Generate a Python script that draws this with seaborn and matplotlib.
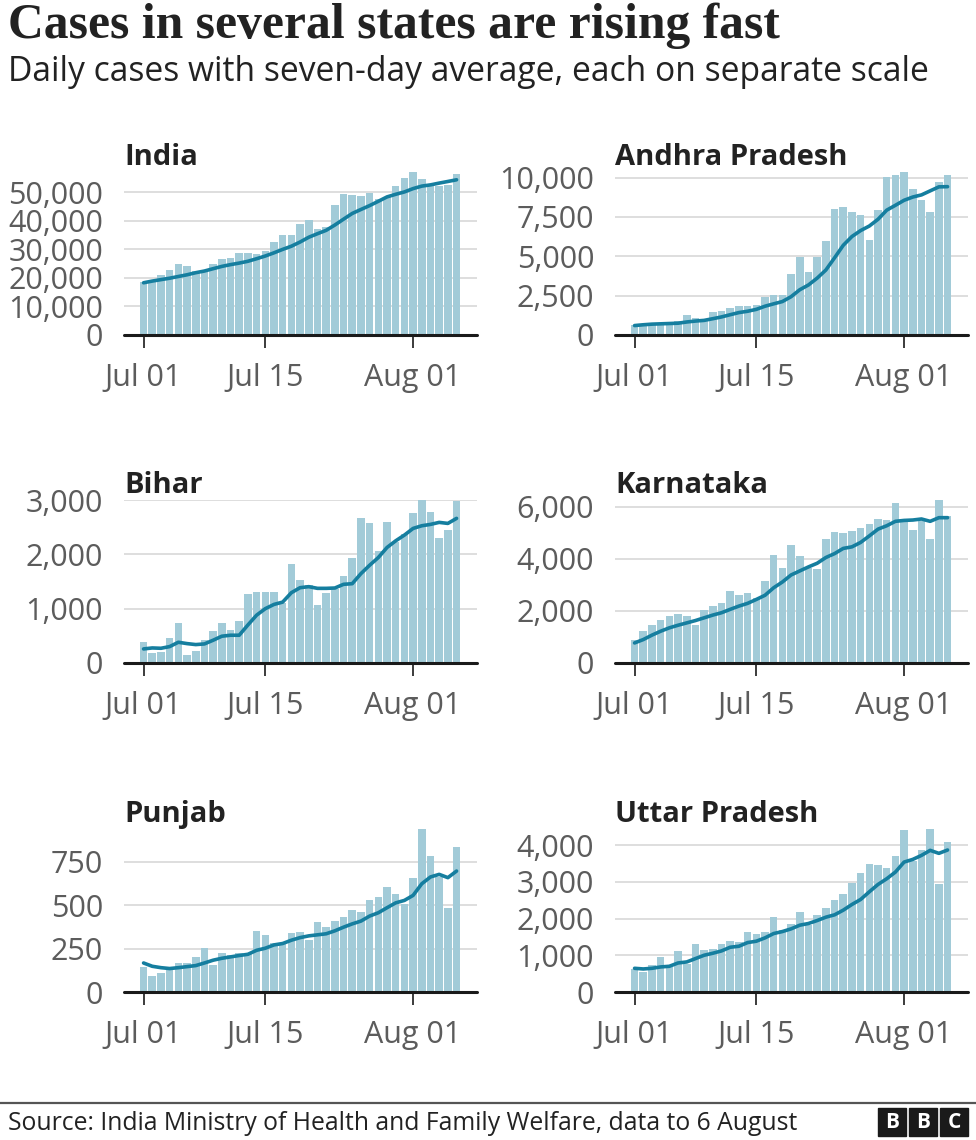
import numpy as np
import pandas as pd
import matplotlib
matplotlib.use("Agg")
import matplotlib.pyplot as plt
import seaborn as sns
from matplotlib.patches import Rectangle
from matplotlib.ticker import FuncFormatter

# Daily cases, 1 July - 6 August 2020
dates = pd.date_range("2020-07-01", "2020-08-06")

india = [18653, 19148, 20903, 22771, 24850, 24248, 22252, 22752, 24879, 26506, 27114, 28637,
         28701, 28498, 29429, 32695, 34956, 34884, 38902, 40425, 37148, 37724, 45720, 49310,
         48916, 48661, 49931, 47703, 48513, 52123, 55079, 57118, 54735, 52972, 52050, 52509, 56282]
india_avg = [18300, 18900, 19400, 19900, 20500, 21100, 21832, 22418, 23236, 24037, 24657, 25198,
             25834, 26727, 27681, 28797, 30004, 31114, 32581, 34256, 35491, 36676, 38537, 40588,
             42592, 43986, 45344, 46852, 48393, 49308, 50132, 51304, 52172, 52606, 53227, 53798, 54392]

andhra = [650, 700, 740, 750, 760, 915, 1280, 1060, 1000, 1490, 1530, 1745, 1870, 1870, 1900, 2400,
          2550, 2550, 3900, 4960, 4000, 4940, 6000, 7980, 8130, 7810, 7600, 6020, 7940, 10060, 10150,
          10360, 9255, 8550, 7810, 9720, 10150]
andhra_avg = [600, 650, 690, 710, 730, 750, 828, 886, 929, 1036, 1148, 1289, 1425, 1509, 1629, 1829,
              1981, 2126, 2434, 2876, 3180, 3614, 4129, 4904, 5701, 6260, 6637, 6926, 7354, 7934, 8244,
              8563, 8769, 8905, 9161, 9415, 9428]

bihar = [382, 185, 203, 462, 727, 154, 228, 419, 598, 733, 610, 770, 1263, 1300, 1306, 1312, 1100,
         1818, 1534, 1436, 1066, 1294, 1368, 1602, 1935, 2674, 2569, 2058, 2594, 2236, 2372, 2754,
         3000, 2785, 2292, 2452, 2976]
bihar_avg = [259, 277, 271, 302, 382, 357, 339, 351, 419, 493, 511, 511, 700, 880, 1000, 1078, 1121,
             1294, 1386, 1405, 1374, 1374, 1380, 1448, 1460, 1645, 1799, 1941, 2126, 2249, 2354, 2477,
             2526, 2551, 2588, 2569, 2662]

karnataka = [900, 1221, 1452, 1645, 1800, 1864, 1800, 1478, 2018, 2185, 2288, 2763, 2596, 2699, 2496,
             3136, 4152, 3663, 4512, 4100, 3637, 3625, 4756, 5013, 4987, 5064, 5193, 5321, 5527, 5488,
             6131, 5470, 5120, 5470, 4743, 6259, 5630]
karnataka_avg = [770, 900, 1070, 1220, 1350, 1450, 1540, 1630, 1735, 1840, 1930, 2060, 2185, 2290,
                 2440, 2600, 2890, 3110, 3380, 3535, 3690, 3830, 4050, 4200, 4400, 4460, 4630, 4880,
                 5140, 5270, 5440, 5475, 5490, 5530, 5440, 5580, 5580]

punjab = [146, 94, 111, 133, 167, 167, 202, 252, 156, 227, 213, 227, 221, 352, 327, 283, 277, 342,
          344, 302, 404, 375, 408, 433, 473, 462, 529, 544, 606, 563, 504, 658, 938, 785, 663, 485, 835]
punjab_avg = [167, 148, 140, 135, 140, 146, 152, 167, 183, 194, 202, 210, 217, 240, 252, 271, 279,
              298, 313, 323, 329, 335, 352, 373, 392, 408, 437, 456, 485, 513, 527, 556, 623, 662,
              677, 658, 696]

uttar = [627, 536, 736, 945, 672, 1125, 763, 1308, 1144, 1172, 1308, 1390, 1363, 1636, 1582, 1636,
         2045, 1700, 1864, 2190, 1836, 2109, 2291, 2509, 2655, 2955, 3245, 3491, 3455, 3373, 3700,
         4418, 3564, 3864, 4436, 2927, 4082]
uttar_avg = [645, 627, 645, 682, 700, 790, 818, 909, 1000, 1055, 1118, 1218, 1245, 1345, 1382, 1473,
             1591, 1645, 1718, 1818, 1864, 1945, 2036, 2100, 2227, 2382, 2518, 2727, 2927, 3082, 3264,
             3536, 3609, 3718, 3855, 3773, 3864]

states = ["India", "Andhra Pradesh", "Bihar", "Karnataka", "Punjab", "Uttar Pradesh"]
cases = [india, andhra, bihar, karnataka, punjab, uttar]
averages = [india_avg, andhra_avg, bihar_avg, karnataka_avg, punjab_avg, uttar_avg]
yticks = [[0, 10000, 20000, 30000, 40000, 50000],
          [0, 2500, 5000, 7500, 10000],
          [0, 1000, 2000, 3000],
          [0, 2000, 4000, 6000],
          [0, 250, 500, 750],
          [0, 1000, 2000, 3000, 4000]]
xtick_dates = ["2020-07-01", "2020-07-15", "2020-08-01"]
xtick_labels = ["Jul 01", "Jul 15", "Aug 01"]

BAR = "#a2cbd8"
LINE = "#157e9f"
GREY = "#5c5c5c"
SANS = ["Open Sans", "Noto Sans", "DejaVu Sans"]

sns.set_theme(style="white")
plt.rcParams["font.family"] = SANS

W, H = 976, 1140
fig = plt.figure(figsize=(W / 100, H / 100), dpi=100)
fig.patch.set_facecolor("white")


def px(x, y):
    return x / W, 1 - y / H


col_lr = [(124, 477), (615, 968)]
row_zero = [335, 663, 992]
ax_h = 163

for i, name in enumerate(states):
    r, c = divmod(i, 2)
    left, right = col_lr[c]
    bottom = row_zero[r]
    ax = fig.add_axes([left / W, 1 - bottom / H, (right - left) / W, ax_h / H])
    df = pd.DataFrame({"day": np.arange(len(dates)), "cases": cases[i], "avg": averages[i]})
    sns.barplot(data=df, x="day", y="cases", native_scale=True, color=BAR, saturation=1,
                width=0.87, linewidth=0, ax=ax, zorder=2)
    sns.lineplot(data=df, x="day", y="avg", color=LINE, lw=2.6, ax=ax, zorder=3,
                 solid_capstyle="round")
    ax.set_xlim(-2.25, 38.35)
    ax.set_ylim(0, max(cases[i]))
    ax.set_yticks(yticks[i])
    ax.yaxis.set_major_formatter(FuncFormatter(lambda v, p: f"{int(v):,}"))
    tick_pos = [dates.get_loc(pd.Timestamp(d)) for d in xtick_dates]
    ax.set_xticks(tick_pos)
    ax.set_xticklabels(xtick_labels)
    ax.set_xlabel("")
    ax.set_ylabel("")
    for s in ax.spines.values():
        s.set_visible(False)
    ax.grid(axis="y", color="#d4d4d4", lw=1.1, zorder=0)
    ax.grid(axis="x", visible=False)
    ax.set_axisbelow(True)
    ax.axhline(0, color="#1a1a1a", lw=2.2, zorder=4, clip_on=False)
    ax.tick_params(axis="y", length=0, pad=15, labelsize=22, labelcolor=GREY)
    ax.tick_params(axis="x", length=9, width=1.2, color="#1a1a1a", pad=11,
                   labelsize=22, labelcolor=GREY, bottom=True)
    fig.text(*px(left, bottom - ax_h - 7), name, fontsize=21, fontweight="bold",
             color="#222222", va="baseline", ha="left")

# headline and subtitle
fig.text(*px(8, 38), "Cases in several states are rising fast", fontsize=35.7,
         fontweight="bold", color="#222222", family=["Liberation Serif", "DejaVu Serif"],
         va="baseline", ha="left")
fig.text(*px(8, 81), "Daily cases with seven-day average, each on separate scale",
         fontsize=24.2, color="#222222", va="baseline", ha="left")

# footer
fig.add_artist(plt.Line2D([0, 1], [1 - 1103 / H] * 2, color="#555555", lw=1.6))
fig.text(*px(8, 1130), "Source: India Ministry of Health and Family Welfare, data to 6 August",
         fontsize=17.8, color="#222222", va="baseline", ha="left")
for k, letter in enumerate("BBC"):
    x0 = 878 + k * 31
    fig.add_artist(Rectangle((x0 / W, 1 - 1136 / H), 28 / W, 28 / H, color="#1a1a1a",
                             transform=fig.transFigure))
    fig.text((x0 + 14) / W, 1 - 1122 / H, letter, color="white", fontsize=15,
             fontweight="bold", ha="center", va="center")

fig.savefig("out.png", dpi=100, facecolor="white")
